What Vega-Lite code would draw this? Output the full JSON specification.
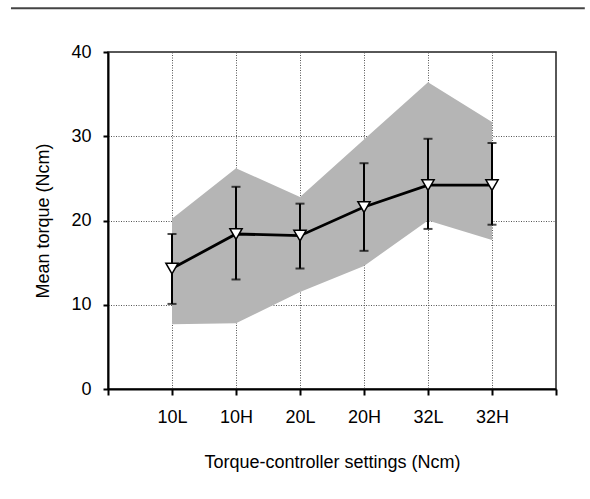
{
  "$schema": "https://vega.github.io/schema/vega-lite/v6.json",
  "width": 448,
  "height": 337,
  "autosize": {"type": "none"},
  "padding": {"left": 108, "top": 52, "right": 34, "bottom": 110},
  "background": "white",
  "config": {
    "font": "Liberation Sans",
    "view": {"stroke": "#222", "strokeWidth": 1.5},
    "axis": {
      "labelFont": "Liberation Sans",
      "titleFont": "Liberation Sans",
      "labelFontSize": 18,
      "titleFontSize": 18,
      "labelColor": "#000",
      "titleColor": "#000",
      "titleFontWeight": "normal",
      "domainColor": "#000",
      "domainWidth": 2,
      "tickColor": "#000",
      "tickWidth": 2,
      "tickSize": 6,
      "gridColor": "#555",
      "gridDash": [1, 1.5],
      "gridWidth": 1,
      "gridOpacity": 1
    }
  },
  "datasets": {
    "torque": [
      {"setting": "10L", "pos": 1, "mean": 14.3, "lo": 10.1, "hi": 18.4, "bandLo": 7.7, "bandHi": 20.2},
      {"setting": "10H", "pos": 2, "mean": 18.4, "lo": 13.0, "hi": 24.0, "bandLo": 7.8, "bandHi": 26.2},
      {"setting": "20L", "pos": 3, "mean": 18.2, "lo": 14.3, "hi": 22.0, "bandLo": 11.5, "bandHi": 22.8},
      {"setting": "20H", "pos": 4, "mean": 21.6, "lo": 16.4, "hi": 26.8, "bandLo": 14.6, "bandHi": 29.6},
      {"setting": "32L", "pos": 5, "mean": 24.2, "lo": 19.0, "hi": 29.7, "bandLo": 20.0, "bandHi": 36.4},
      {"setting": "32H", "pos": 6, "mean": 24.2, "lo": 19.5, "hi": 29.2, "bandLo": 17.7, "bandHi": 31.7}
    ],
    "frame": [{"left": -1.516, "right": 7.45, "top": 45.2, "bottom": -12.8}]
  },
  "layer": [
    {
      "data": {"name": "torque"},
      "mark": {"type": "area", "color": "#b5b5b5", "opacity": 1},
      "encoding": {
        "x": {
          "field": "pos",
          "type": "quantitative",
          "scale": {"domain": [0, 7], "nice": false, "zero": false},
          "axis": {
            "values": [0, 1, 2, 3, 4, 5, 6, 7],
            "labelExpr": "['', '10L', '10H', '20L', '20H', '32L', '32H', ''][datum.value]",
            "title": "Torque-controller settings (Ncm)",
            "labelPadding": 13,
            "titlePadding": 27,
            "grid": true
          }
        },
        "y": {
          "field": "bandHi",
          "type": "quantitative",
          "scale": {"domain": [0, 40], "nice": false},
          "axis": {
            "values": [0, 10, 20, 30, 40],
            "title": "Mean torque (Ncm)",
            "labelPadding": 12,
            "tickSize": 5,
            "titlePadding": 18,
            "grid": true
          }
        },
        "y2": {"field": "bandLo"}
      }
    },
    {
      "data": {"name": "torque"},
      "mark": {"type": "rule", "color": "#000", "strokeWidth": 2},
      "encoding": {
        "x": {"field": "pos", "type": "quantitative"},
        "y": {"field": "lo", "type": "quantitative"},
        "y2": {"field": "hi"}
      }
    },
    {
      "data": {"name": "torque"},
      "mark": {"type": "tick", "orient": "horizontal", "color": "#000", "thickness": 2, "size": 9},
      "encoding": {
        "x": {"field": "pos", "type": "quantitative"},
        "y": {"field": "hi", "type": "quantitative"}
      }
    },
    {
      "data": {"name": "torque"},
      "mark": {"type": "tick", "orient": "horizontal", "color": "#000", "thickness": 2, "size": 9},
      "encoding": {
        "x": {"field": "pos", "type": "quantitative"},
        "y": {"field": "lo", "type": "quantitative"}
      }
    },
    {
      "data": {"name": "torque"},
      "mark": {"type": "line", "color": "#000", "strokeWidth": 2.8},
      "encoding": {
        "x": {"field": "pos", "type": "quantitative"},
        "y": {"field": "mean", "type": "quantitative"}
      }
    },
    {
      "data": {"name": "torque"},
      "mark": {"type": "point", "shape": "triangle-down", "filled": true, "fill": "white", "stroke": "#000", "strokeWidth": 1.5, "size": 150, "opacity": 1},
      "encoding": {
        "x": {"field": "pos", "type": "quantitative"},
        "y": {"field": "mean", "type": "quantitative"}
      }
    },
    {
      "data": {"name": "frame"},
      "mark": {"type": "rule", "color": "#444", "strokeWidth": 2, "clip": false},
      "encoding": {
        "x": {"field": "left", "type": "quantitative"},
        "x2": {"field": "right"},
        "y": {"field": "top", "type": "quantitative"}
      }
    }
  ]
}
